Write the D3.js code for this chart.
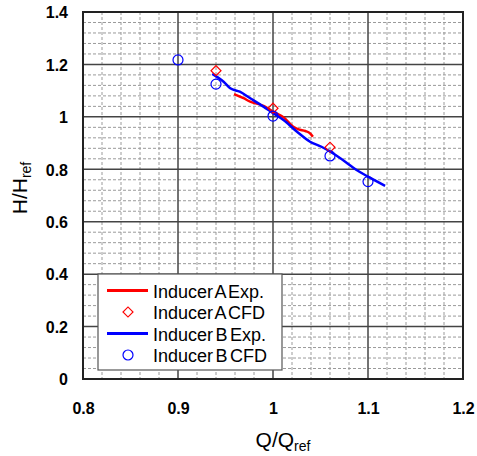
<!DOCTYPE html>
<html>
<head>
<meta charset="utf-8">
<script src="https://cdn.jsdelivr.net/npm/d3@7"></script>
<style>
  html, body { margin: 0; padding: 0; background: #fff; }
  svg { display: block; }
</style>
</head>
<body>
<svg id="chart" width="477" height="456"></svg>
<script>
// Head–flow characteristics of two inducers: experiment vs. CFD
const xTicks = [0.8, 0.9, 1.0, 1.1, 1.2];
const yTicks = [0, 0.2, 0.4, 0.6, 0.8, 1.0, 1.2, 1.4];
const xTickLabels = ["0.8", "0.9", "1", "1.1", "1.2"];
const yTickLabels = ["0", "0.2", "0.4", "0.6", "0.8", "1", "1.2", "1.4"];

const inducerAExp = [
  [0.959, 1.087], [0.969, 1.071], [0.976, 1.058], [0.990, 1.042],
  [1.000, 1.020], [1.011, 0.999], [1.021, 0.963], [1.027, 0.952],
  [1.034, 0.946], [1.039, 0.937], [1.042, 0.924]
];
const inducerACFD = [[0.94, 1.176], [1.00, 1.033], [1.06, 0.884]];
const inducerBExp = [
  [0.936, 1.164], [0.948, 1.134], [0.955, 1.109], [0.965, 1.096],
  [0.976, 1.071], [0.990, 1.039], [1.000, 1.014], [1.011, 0.988],
  [1.025, 0.944], [1.039, 0.905], [1.051, 0.886], [1.063, 0.861],
  [1.076, 0.829], [1.088, 0.797], [1.100, 0.772], [1.118, 0.737]
];
const inducerBCFD = [[0.90, 1.217], [0.94, 1.125], [1.00, 1.003], [1.06, 0.851], [1.10, 0.753]];

const legendLabels = ["Inducer A Exp.", "Inducer A CFD", "Inducer B Exp.", "Inducer B CFD"];

const svg = d3.select("#chart");
const plotL = 83, plotR = 463, plotT = 12, plotB = 379;

const x = d3.scaleLinear().domain([0.8, 1.2]).range([plotL, plotR]);
const y = d3.scaleLinear().domain([0, 1.4]).range([plotB, plotT]);

const red = "#ff0000", blue = "#0000ff";

// minor dashed grid
const g = svg.append("g");
g.selectAll(".vminor").data(d3.range(0.82, 1.2, 0.02).filter(v => Math.abs(v * 10 - Math.round(v * 10)) > 1e-6))
  .join("line")
  .attr("x1", d => x(d)).attr("x2", d => x(d)).attr("y1", plotT).attr("y2", plotB)
  .attr("stroke", "#9a9a9a").attr("stroke-width", 1).attr("stroke-dasharray", "3,2");
g.selectAll(".hminor").data(d3.range(0.04, 1.4, 0.04).filter(v => Math.abs(v * 5 - Math.round(v * 5)) > 1e-6))
  .join("line")
  .attr("y1", d => y(d)).attr("y2", d => y(d)).attr("x1", plotL).attr("x2", plotR)
  .attr("stroke", "#9a9a9a").attr("stroke-width", 1).attr("stroke-dasharray", "3,2");

// major grid
g.selectAll(".vmajor").data(xTicks).join("line")
  .attr("x1", d => x(d)).attr("x2", d => x(d)).attr("y1", plotT).attr("y2", plotB)
  .attr("stroke", "#444").attr("stroke-width", 1.5);
g.selectAll(".hmajor").data(yTicks).join("line")
  .attr("y1", d => y(d)).attr("y2", d => y(d)).attr("x1", plotL).attr("x2", plotR)
  .attr("stroke", "#444").attr("stroke-width", 1.5);

// frame
svg.append("rect").attr("x", plotL).attr("y", plotT).attr("width", plotR - plotL).attr("height", plotB - plotT)
  .attr("fill", "none").attr("stroke", "#222").attr("stroke-width", 2);

// axes (tick labels only)
const xAxis = d3.axisBottom(x).tickValues(xTicks).tickSize(0).tickPadding(0)
  .tickFormat((d, i) => xTickLabels[i]);
const yAxis = d3.axisLeft(y).tickValues(yTicks).tickSize(0).tickPadding(0)
  .tickFormat((d, i) => yTickLabels[i]);

const gx = svg.append("g").attr("transform", `translate(0,${plotB + 24})`).call(xAxis);
const gy = svg.append("g").attr("transform", `translate(${plotL - 15},0)`).call(yAxis);
[gx, gy].forEach(a => {
  a.select(".domain").remove();
  a.selectAll("text").attr("font-family", "Liberation Sans, Arial, sans-serif")
    .attr("font-size", 16).attr("font-weight", "bold").attr("fill", "#000");
});
gy.selectAll("text").attr("dy", "0.36em");
gx.selectAll("text").attr("dy", "0.71em");

// axis titles
const xt = svg.append("text").attr("x", 283).attr("y", 447).attr("text-anchor", "middle")
  .attr("font-family", "Liberation Sans, Arial, sans-serif").attr("font-size", 21).attr("fill", "#000");
xt.append("tspan").text("Q/Q");
xt.append("tspan").attr("font-size", 14).attr("dy", 4).text("ref");

const yt = svg.append("text").attr("transform", `translate(27,188) rotate(-90)`)
  .attr("text-anchor", "middle")
  .attr("font-family", "Liberation Sans, Arial, sans-serif").attr("font-size", 21).attr("fill", "#000");
yt.append("tspan").text("H/H");
yt.append("tspan").attr("font-size", 14).attr("dy", 4).text("ref");

// series
const line = d3.line().x(d => x(d[0])).y(d => y(d[1])).curve(d3.curveMonotoneX);
svg.append("path").datum(inducerAExp).attr("d", line).attr("fill", "none")
  .attr("stroke", red).attr("stroke-width", 2.5);
svg.append("path").datum(inducerBExp).attr("d", line).attr("fill", "none")
  .attr("stroke", blue).attr("stroke-width", 2.5);

const diamond = d3.symbol().type(d3.symbolSquare).size(50);
svg.selectAll(".acfd").data(inducerACFD).join("path")
  .attr("d", diamond)
  .attr("transform", d => `translate(${x(d[0])},${y(d[1])}) rotate(45)`)
  .attr("fill", "none").attr("stroke", red).attr("stroke-width", 1.2);
svg.selectAll(".bcfd").data(inducerBCFD).join("circle")
  .attr("cx", d => x(d[0])).attr("cy", d => y(d[1])).attr("r", 5)
  .attr("fill", "none").attr("stroke", blue).attr("stroke-width", 1.2);

// legend
const lg = svg.append("g");
lg.append("rect").attr("x", 98).attr("y", 274).attr("width", 184).attr("height", 96)
  .attr("fill", "#fff").attr("stroke", "#555").attr("stroke-width", 1.2);
const rowY = [290.5, 312, 333.5, 355];
const kinds = [
  { type: "line", color: red }, { type: "diamond", color: red },
  { type: "line", color: blue }, { type: "circle", color: blue }
];
kinds.forEach((k, i) => {
  const cy = rowY[i];
  if (k.type === "line") {
    lg.append("line").attr("x1", 107).attr("x2", 148).attr("y1", cy).attr("y2", cy)
      .attr("stroke", k.color).attr("stroke-width", 3);
  } else if (k.type === "diamond") {
    lg.append("path").attr("d", diamond).attr("transform", `translate(128,${cy}) rotate(45)`)
      .attr("fill", "none").attr("stroke", k.color).attr("stroke-width", 1.2);
  } else {
    lg.append("circle").attr("cx", 128).attr("cy", cy).attr("r", 5)
      .attr("fill", "none").attr("stroke", k.color).attr("stroke-width", 1.2);
  }
  lg.append("text").attr("x", 153).attr("y", cy + 7)
    .attr("font-family", "Liberation Sans, Arial, sans-serif").attr("font-size", 18)
    .attr("word-spacing", -2.5).attr("fill", "#000").text(legendLabels[i]);
});
</script>
</body>
</html>
